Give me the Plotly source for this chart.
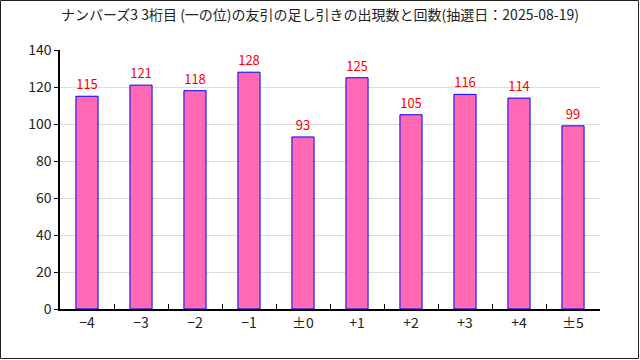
import plotly.graph_objects as go

categories = ["−4", "−3", "−2", "−1", "±0", "+1", "+2", "+3", "+4", "±5"]
counts = [115, 121, 118, 128, 93, 125, 105, 116, 114, 99]
title_text = "ナンバーズ3 3桁目 (一の位)の友引の足し引きの出現数と回数(抽選日：2025-08-19)"

W, H = 640, 360
L, R, T, B = 60, 40, 50, 51
pw, ph = W - L - R, H - T - B

FONT = "Noto Sans CJK JP, DejaVu Sans, sans-serif"

fig = go.Figure()
fig.add_trace(go.Bar(
    x=categories, y=counts,
    width=0.41,
    marker=dict(color="#FF69B4", line=dict(color="#0000FF", width=1)),
    text=[str(v) for v in counts],
    textposition="outside",
    textfont=dict(color="#FF0000", size=13, family=FONT),
    cliponaxis=False,
))

fig.update_layout(
    width=W, height=H,
    margin=dict(l=L, r=R, t=T, b=B),
    paper_bgcolor="white", plot_bgcolor="white",
    showlegend=False,
    title=dict(text=title_text, x=0.5, xanchor="center", y=1 - 15 / H, yanchor="middle",
               font=dict(size=14, color="#222", family=FONT)),
    font=dict(family=FONT, color="#222"),
)
fig.update_xaxes(
    type="category",
    showline=True, linecolor="black", linewidth=1.5,
    ticks="inside", tickson="boundaries", ticklen=5, tickcolor="black",
    showgrid=False,
    tickfont=dict(size=14, color="#222"),
    range=[-0.5, 9.5],
)
fig.update_yaxes(
    range=[0, 140], dtick=20,
    showline=True, linecolor="black", linewidth=1.5,
    ticks="outside", ticklen=4, tickcolor="black",
    showgrid=True, gridcolor="#DDDDDD", gridwidth=1,
    zeroline=False,
    tickfont=dict(size=14, color="#222"),
)
fig.add_shape(type="rect", xref="paper", yref="paper",
              x0=-(L - 0.5) / pw, x1=1 + (R - 1.5) / pw,
              y0=-(B - 1.5) / ph, y1=1 + (T - 0.5) / ph,
              line=dict(color="#222", width=1), fillcolor="rgba(0,0,0,0)", layer="below")

fig.write_html("out.html", config={"displayModeBar": False},
               post_script="document.body.style.margin='0';document.body.style.overflow='hidden';")
